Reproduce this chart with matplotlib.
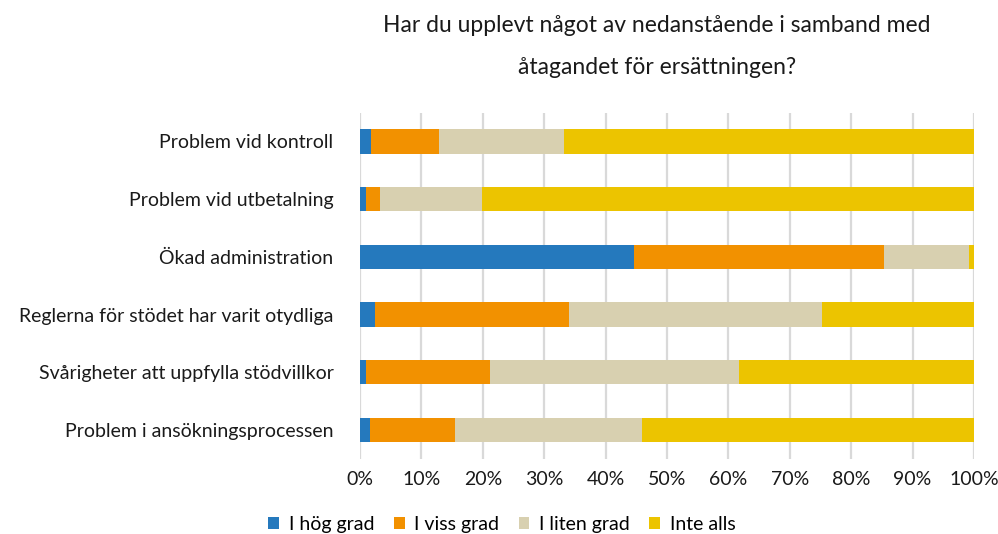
import matplotlib
matplotlib.use("Agg")
import matplotlib.pyplot as plt
import numpy as np

plt.rcParams['font.family'] = ['Lato', 'DejaVu Sans']

# categories from top to bottom
categories = [
    "Problem vid kontroll",
    "Problem vid utbetalning",
    "Ökad administration",
    "Reglerna för stödet har varit otydliga",
    "Svårigheter att uppfylla stödvillkor",
    "Problem i ansökningsprocessen",
]
series_names = ["I hög grad", "I viss grad", "I liten grad", "Inte alls"]
hog_grad = [1.8, 0.9, 44.7, 2.5, 0.9, 1.7]
viss_grad = [11.0, 2.4, 40.6, 31.6, 20.2, 13.8]
liten_grad = [20.5, 16.6, 13.9, 41.1, 40.6, 30.4]
inte_alls = [66.7, 80.1, 0.8, 24.8, 38.3, 54.1]
colors = ["#2579bd", "#f29100", "#d8d0b0", "#ecc400"]

fig = plt.figure(figsize=(9.98, 5.34), dpi=100)
ax = fig.add_axes([360 / 998, 1 - 458.9 / 534, 614 / 998, 346.3 / 534])

y = np.arange(len(categories))
left = np.zeros(len(categories))
for name, vals, col in zip(series_names, [hog_grad, viss_grad, liten_grad, inte_alls], colors):
    vals = np.array(vals)
    ax.barh(y, vals, left=left, height=0.42, color=col, label=name, zorder=2)
    left += vals

ax.set_xlim(0, 100)
ax.set_ylim(len(categories) - 0.5, -0.5)
ax.set_yticks(y)
ax.set_yticklabels(categories, fontsize=14, color="#1a1a1a")
ax.set_xticks(np.arange(0, 101, 10))
ax.set_xticklabels([f"{v}%" for v in range(0, 101, 10)], fontsize=14, color="#1a1a1a")
ax.tick_params(axis="both", length=0)
ax.tick_params(axis="y", pad=19)
ax.tick_params(axis="x", pad=9)
ax.grid(axis="x", color="#d9d9d9", linewidth=1.6, zorder=0)
for s in ax.spines.values():
    s.set_visible(False)

fig.text(657 / 998, 1 - 25 / 534, "Har du upplevt något av nedanstående i samband med",
         ha="center", va="center", fontsize=16.5, color="#1a1a1a")
fig.text(657 / 998, 1 - 68 / 534, "åtagandet för ersättningen?",
         ha="center", va="center", fontsize=16.5, color="#1a1a1a")

fig.legend(loc="center", bbox_to_anchor=(502 / 998, 1 - 524.5 / 534), ncol=4, frameon=False,
           fontsize=14, handlelength=0.55, handleheight=0.55, handletextpad=0.5,
           columnspacing=1.0)

fig.savefig("out.png", dpi=100)
